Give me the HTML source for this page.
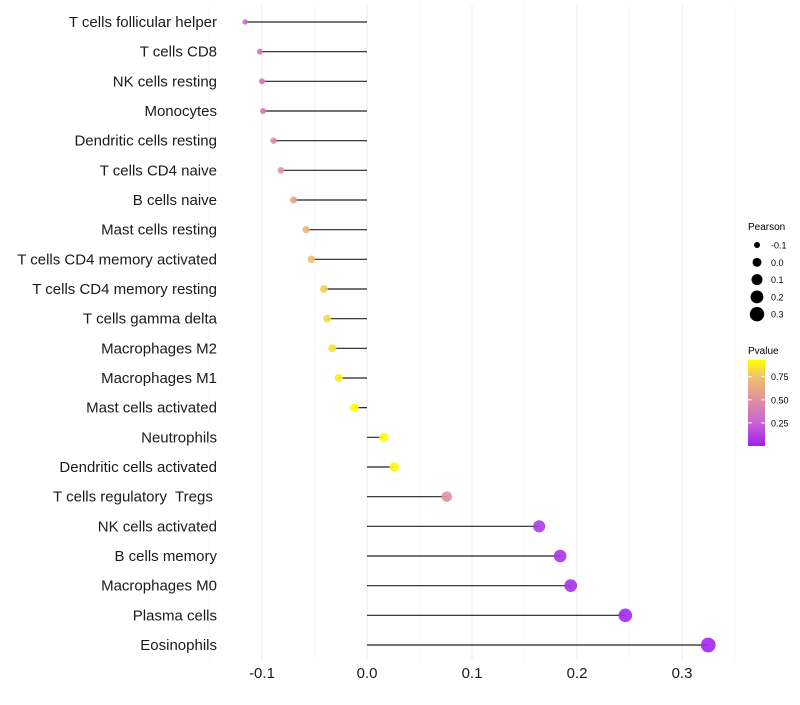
<!DOCTYPE html>
<html><head><meta charset="utf-8"><style>
body{margin:0;background:#fff;font-family:"Liberation Sans",sans-serif;}
svg text{font-family:"Liberation Sans",sans-serif;white-space:pre;}
</style></head><body>
<svg id="chart" width="800" height="700">
<defs><linearGradient id="pg" x1="0" y1="1" x2="0" y2="0">
<stop offset="0" stop-color="#a020f0"/><stop offset="0.27" stop-color="#c864d4"/><stop offset="0.54" stop-color="#e0909e"/><stop offset="0.8" stop-color="#f0c070"/><stop offset="1" stop-color="#ffff00"/></linearGradient></defs>
<g id="grid"></g><g id="marks"></g><g id="ylabels"></g><g id="xlabels"></g>
<g>
<text x="748" y="230" font-size="10">Pearson</text>
<g id="sizeleg"></g></g>
<g>
<text x="748" y="354" font-size="10">Pvalue</text>
<rect x="748" y="360" width="17" height="86" fill="url(#pg)"/>
<g id="colleg"></g></g>
</svg>
<script>
const cells=["T cells follicular helper","T cells CD8","NK cells resting","Monocytes","Dendritic cells resting","T cells CD4 naive","B cells naive","Mast cells resting","T cells CD4 memory activated","T cells CD4 memory resting","T cells gamma delta","Macrophages M2","Macrophages M1","Mast cells activated","Neutrophils","Dendritic cells activated","T cells regulatory  Tregs ","NK cells activated","B cells memory","Macrophages M0","Plasma cells","Eosinophils"];
const pearson=[-0.116,-0.102,-0.100,-0.099,-0.089,-0.082,-0.070,-0.058,-0.053,-0.041,-0.038,-0.033,-0.027,-0.012,0.016,0.026,0.076,0.164,0.184,0.194,0.246,0.325];
const pvalue=[0.3,0.35,0.37,0.38,0.45,0.5,0.6,0.7,0.75,0.8,0.83,0.85,0.88,0.93,0.93,0.9,0.5,0.1,0.07,0.06,0.03,0.02];
const xticks=[-0.1,0,0.1,0.2,0.3];
const xtickLabels=["-0.1","0.0","0.1","0.2","0.3"];
const sizeBreaks=[-0.1,0,0.1,0.2,0.3];
const colBreaks=[0.25,0.5,0.75];
const NS="http://www.w3.org/2000/svg";
const X=v=>367+v*1050;
const Y=i=>22+i*(623/21);
const R=v=>Math.sqrt(7+(v+0.12)/0.45*48);
const stops=[[0,[160,32,240]],[0.25,[200,100,212]],[0.5,[224,144,158]],[0.75,[240,192,112]],[0.93,[255,255,0]]];
function col(p){p=Math.max(0,Math.min(0.93,p));for(let k=1;k<stops.length;k++){if(p<=stops[k][0]){const a=stops[k-1],b=stops[k],t=(p-a[0])/(b[0]-a[0]);return 'rgb('+a[1].map((c,j)=>Math.round(c+(b[1][j]-c)*t)).join(',')+')';}}return 'rgb(255,255,0)';}
function el(t,a,p){const e=document.createElementNS(NS,t);for(const k in a)e.setAttribute(k,a[k]);p.appendChild(e);return e;}
const g=document.getElementById('grid');
for(let v=-0.15;v<=0.351;v+=0.05){const maj=Math.abs(Math.round(v*20)%2)===0;el('line',{x1:X(v),x2:X(v),y1:5,y2:660,stroke:maj?'#ebebeb':'#f4f4f4','stroke-width':maj?1:0.7},g);}
const m=document.getElementById('marks'),yl=document.getElementById('ylabels');
cells.forEach((c,i)=>{
const ln=el('line',{x1:X(0),x2:X(pearson[i]),y1:Y(i),y2:Y(i),stroke:'#222','stroke-width':1.2},m);


const ci=el('circle',{cx:X(pearson[i]),cy:Y(i),r:R(pearson[i]),fill:col(pvalue[i]),'fill-opacity':0.9},m);


const t=el('text',{x:217,y:Y(i)+5,'text-anchor':'end','font-size':15,fill:'#1a1a1a'},yl);t.textContent=c;


});
const xl=document.getElementById('xlabels');
xticks.forEach((v,i)=>{const t=el('text',{x:X(v),y:678,'text-anchor':'middle','font-size':15,fill:'#1a1a1a'},xl);t.textContent=xtickLabels[i];

});
const sl=document.getElementById('sizeleg');
sizeBreaks.forEach((v,i)=>{const y=245+i*17.3;el('circle',{cx:757,cy:y,r:R(v),fill:'#000'},sl);const t=el('text',{x:771,y:y+3.5,'font-size':9},sl);t.textContent=v.toFixed(1);});
const cl=document.getElementById('colleg');
colBreaks.forEach(v=>{const y=446-v/0.93*86;el('line',{x1:748,x2:752,y1:y,y2:y,stroke:'#fff'},cl);el('line',{x1:761,x2:765,y1:y,y2:y,stroke:'#fff'},cl);const t=el('text',{x:771,y:y+3.5,'font-size':9},cl);t.textContent=v.toFixed(2);});
</script>
</body></html>
